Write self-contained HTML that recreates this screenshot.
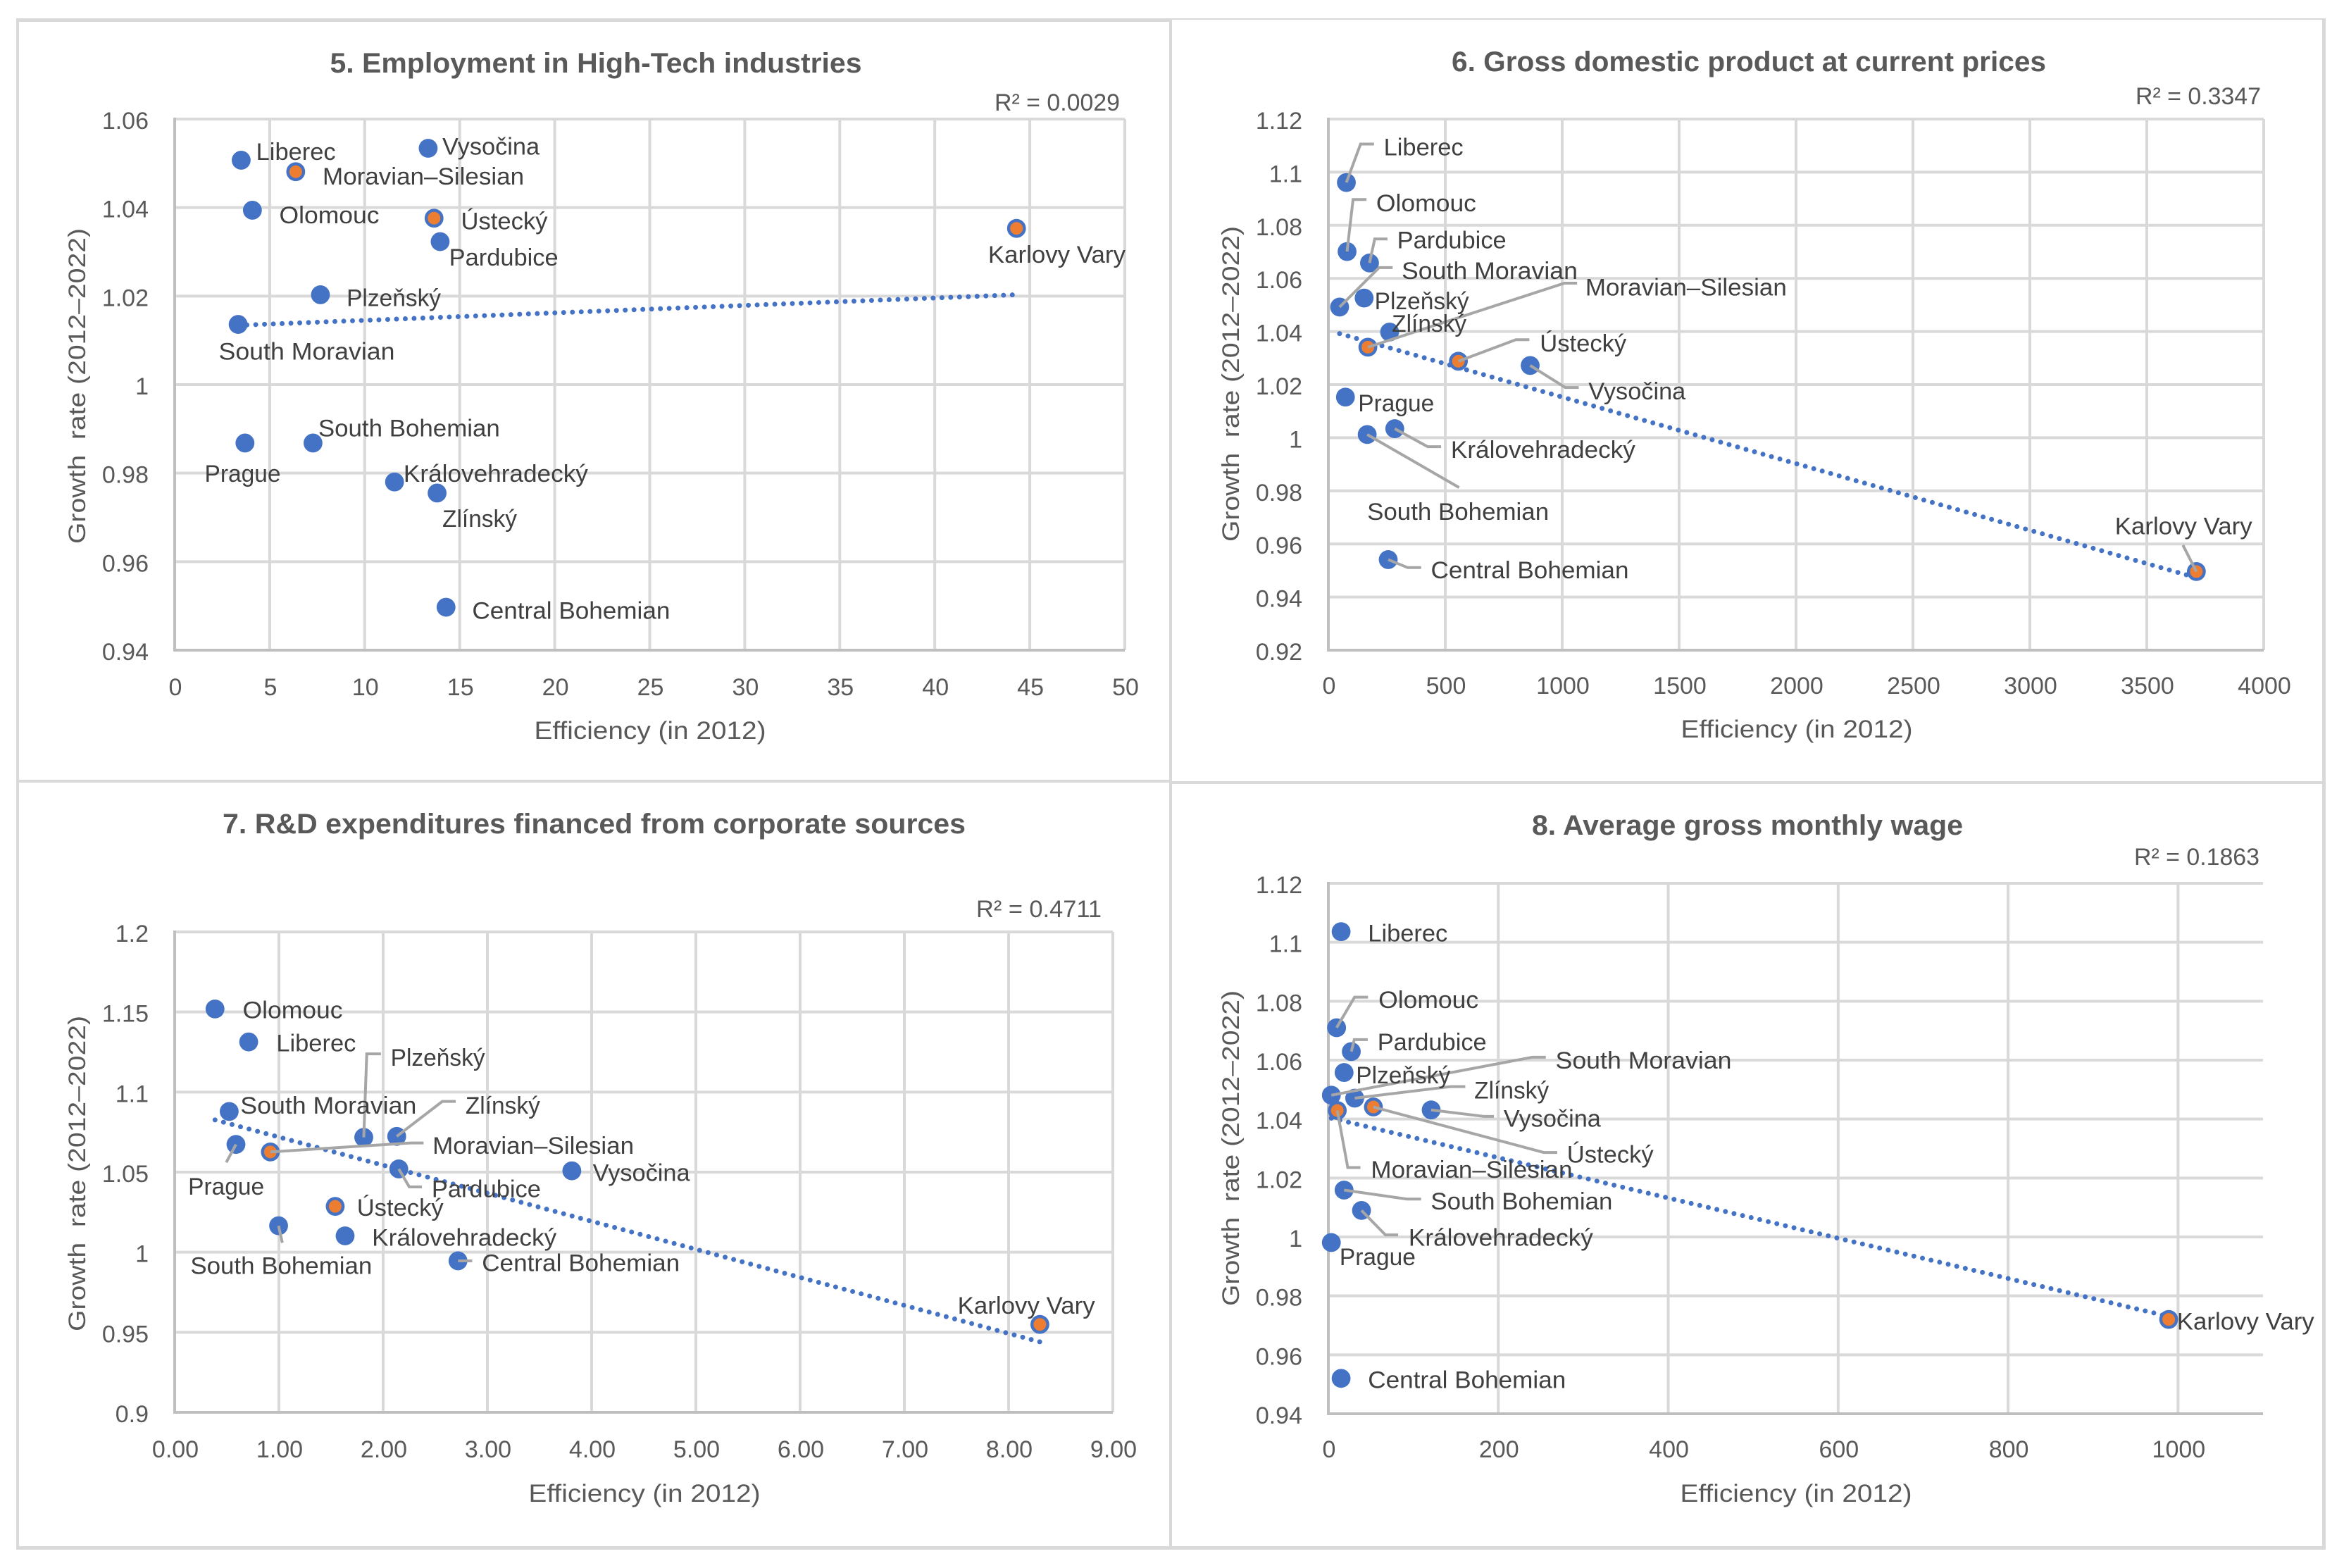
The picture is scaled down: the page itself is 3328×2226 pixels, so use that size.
<!DOCTYPE html>
<html lang="en">
<head>
<meta charset="utf-8">
<title>Efficiency and growth rate scatter charts</title>
<style>
html,body{margin:0;padding:0;background:#fff;}
body{width:3328px;height:2226px;overflow:hidden;}
svg{display:block;}
text{font-family:"Liberation Sans",sans-serif;}
</style>
</head>
<body>
<svg id="figure" xmlns="http://www.w3.org/2000/svg" width="3328" height="2226" viewBox="0 0 3328 2226"></svg>
<script>
const regions = ['Liberec','Moravian–Silesian','Vysočina','Olomouc','Ústecký','Pardubice','Karlovy Vary','Plzeňský','South Moravian','Prague','South Bohemian','Královehradecký','Zlínský','Central Bohemian'];
const highlightedRegions = ['Moravian–Silesian','Ústecký','Karlovy Vary'];

const chart5X = [3.5,6.37,13.34,4.09,13.65,13.97,44.3,7.67,3.34,3.7,7.28,11.57,13.81,14.28];
const chart5Y = [1.0507,1.0481,1.0534,1.0394,1.0376,1.0323,1.0353,1.0203,1.0136,0.9868,0.9868,0.978,0.9755,0.9497];
const chart5XTicks = ['0','5','10','15','20','25','30','35','40','45','50'];
const chart5YTicks = ['1.06','1.04','1.02','1','0.98','0.96','0.94'];
const chart5Trend = [1.0134,1.0203];

const chart6X = [77,169,863,80,556,176,3712,153,48,73,166,284,262,256];
const chart6Y = [1.0961,1.0341,1.0272,1.0701,1.0288,1.0658,0.9496,1.0526,1.0492,1.0153,1.0012,1.0034,1.0398,0.9541];
const chart6XTicks = ['0','500','1000','1500','2000','2500','3000','3500','4000'];
const chart6YTicks = ['1.12','1.1','1.08','1.06','1.04','1.02','1','0.98','0.96','0.94','0.92'];
const chart6Trend = [1.0392,0.9473];

const chart7X = [0.71,0.918,3.81,0.387,1.54,2.15,8.3,1.814,0.523,0.588,0.997,1.635,2.13,2.718];
const chart7Y = [1.1313,1.0626,1.0508,1.1519,1.0286,1.052,0.9549,1.0717,1.0879,1.0673,1.0165,1.0102,1.0723,0.9946];
const chart7XTicks = ['0.00','1.00','2.00','3.00','4.00','5.00','6.00','7.00','8.00','9.00'];
const chart7YTicks = ['1.2','1.15','1.1','1.05','1','0.95','0.9'];
const chart7Trend = [1.0826,0.944];

const chart8X = [15,10.5,121,9.7,53,27,989,18.5,3.5,3.5,18.5,39,31,15];
const chart8Y = [1.1036,1.0429,1.0431,1.071,1.0441,1.0629,0.972,1.0558,1.0481,0.9981,1.0159,1.009,1.0471,0.952];
const chart8XTicks = ['0','200','400','600','800','1000'];
const chart8YTicks = ['1.12','1.1','1.08','1.06','1.04','1.02','1','0.98','0.96','0.94'];
const chart8XMax = 1100;
const chart8Trend = [1.0403,0.973];

// Layout only: label and leader offsets from each point, in a 1.061 x 0.7098 px grid.
const GRID_X = 1.061;
const GRID_Y = 0.7098;
const labelWidths = {'Liberec':113,'Moravian–Silesian':286,'Vysočina':138,'Olomouc':142,'Ústecký':123,'Pardubice':155,'Karlovy Vary':195,'Plzeňský':134,'South Moravian':250,'Prague':108,'South Bohemian':258,'Královehradecký':262,'Zlínský':106,'Central Bohemian':281};

const chart5Labels = {'Liberec':{at:[20,-16]},'Moravian–Silesian':{at:[36,10]},'Vysočina':{at:[19,-3]},'Olomouc':{at:[36,11]},'Ústecký':{at:[36,7]},'Pardubice':{at:[12,32]},'Karlovy Vary':{at:[-38,53]},'Plzeňský':{at:[35,7]},'South Moravian':{at:[-26,55]},'Prague':{at:[-54,62]},'South Bohemian':{at:[7,-29]},'Královehradecký':{at:[12,-16]},'Zlínský':{at:[7,52]},'Central Bohemian':{at:[35,8]}};
const chart6Labels = {'Liberec':{at:[50,-70],leader:[[19,-77],[37,-77]]},'Olomouc':{at:[39,-96],leader:[[8,-104],[26,-104]]},'Pardubice':{at:[37,-45],leader:[[7,-48],[24,-48]]},'South Moravian':{at:[83,-72],leader:[[53,-79],[71,-79]]},'Plzeňský':{at:[14,7]},'Zlínský':{at:[3,-16]},'Moravian–Silesian':{at:[291,-119],leader:[[263,-128],[280,-128]]},'Ústecký':{at:[109,-35],leader:[[77,-43],[95,-43]]},'Vysočina':{at:[78,52],leader:[[47,44],[65,44]]},'Prague':{at:[17,13]},'Královehradecký':{at:[75,43],leader:[[44,36],[62,36]]},'South Bohemian':{at:[0,155],leader:[[123,106]]},'Central Bohemian':{at:[57,22],leader:[[26,16],[44,16]]},'Karlovy Vary':{at:[-109,-90],leader:[[-18,-53]]}};
const chart7Labels = {'Olomouc':{at:[37,3]},'Liberec':{at:[37,3]},'South Moravian':{at:[15,-11]},'Plzeňský':{at:[36,-159],leader:[[4,-167],[23,-167]]},'Zlínský':{at:[92,-61],leader:[[61,-70],[79,-70]]},'Prague':{at:[-64,85],leader:[[-13,36]]},'Moravian–Silesian':{at:[217,-12],leader:[[187,-18],[205,-18]]},'Pardubice':{at:[44,41],leader:[[14,36],[31,36]]},'Vysočina':{at:[28,5]},'Ústecký':{at:[29,3]},'South Bohemian':{at:[-118,81],leader:[[5,34]]},'Královehradecký':{at:[36,4]},'Central Bohemian':{at:[32,5],leader:[[19,0]]},'Karlovy Vary':{at:[-110,-37]}};
const chart8Labels = {'Liberec':{at:[36,4]},'Olomouc':{at:[56,-55],leader:[[24,-61],[42,-61]]},'Pardubice':{at:[35,-18],leader:[[4,-24],[22,-24]]},'Plzeňský':{at:[16,6]},'South Moravian':{at:[300,-69],leader:[[269,-76],[287,-76]]},'Zlínský':{at:[160,-15],leader:[[128,-23],[148,-23]]},'Moravian–Silesian':{at:[45,119],leader:[[14,114],[31,114]]},'Ústecký':{at:[259,96],leader:[[228,91],[246,91]]},'Vysočina':{at:[97,18],leader:[[71,13],[84,13]]},'South Bohemian':{at:[116,23],leader:[[84,18],[103,18]]},'Královehradecký':{at:[63,55],leader:[[32,49],[49,49]]},'Prague':{at:[11,30]},'Central Bohemian':{at:[36,4]},'Karlovy Vary':{at:[11,5]}};

const panels = [
 {n:5,title:'5. Employment in High-Tech industries',titleCx:846,titleY:89,titleW:755,left:248,right:1597,top:169,bottom:923,r2:'R² = 0.0029',r2Right:1590,r2Y:145,xTitleCx:923,xTitleY:1037,yTitleX:109,yTitleCy:548,xTickY:975,xs:chart5X,ys:chart5Y,xTicks:chart5XTicks,yTicks:chart5YTicks,trend:chart5Trend,labels:chart5Labels},
 {n:6,title:'6. Gross domestic product at current prices',titleCx:2483,titleY:87,titleW:844,left:1886,right:3214,top:169,bottom:923,r2:'R² = 0.3347',r2Right:3210,r2Y:136,xTitleCx:2551,xTitleY:1035,yTitleX:1747,yTitleCy:545,xTickY:973,xs:chart6X,ys:chart6Y,xTicks:chart6XTicks,yTicks:chart6YTicks,trend:chart6Trend,labels:chart6Labels},
 {n:7,title:'7. R&D expenditures financed from corporate sources',titleCx:843.5,titleY:1169,titleW:1055,left:248,right:1580,top:1323,bottom:2005,r2:'R² = 0.4711',r2Right:1564,r2Y:1290,xTitleCx:915,xTitleY:2120,yTitleX:109,yTitleCy:1666,xTickY:2057,xs:chart7X,ys:chart7Y,xTicks:chart7XTicks,yTicks:chart7YTicks,trend:chart7Trend,labels:chart7Labels},
 {n:8,title:'8. Average gross monthly wage',titleCx:2481,titleY:1171,titleW:612,left:1886,right:3213,top:1254,bottom:2007,r2:'R² = 0.1863',r2Right:3208,r2Y:1216,xTitleCx:2550,xTitleY:2120,yTitleX:1747,yTitleCy:1630,xTickY:2057,xs:chart8X,ys:chart8Y,xTicks:chart8XTicks,yTicks:chart8YTicks,xMax:chart8XMax,trend:chart8Trend,labels:chart8Labels}
];

const SVG_NS = 'http://www.w3.org/2000/svg';
const figure = document.getElementById('figure');

function make(parent, tag, attrs, content) {
  const node = document.createElementNS(SVG_NS, tag);
  for (const key in attrs) node.setAttribute(key, attrs[key]);
  if (content !== undefined) node.textContent = content;
  parent.appendChild(node);
  return node;
}
function slug(text) {
  return text.toLowerCase().normalize('NFD').replace(/[\u0300-\u036f]/g, '').replace(/[^a-z0-9]+/g, '-').replace(/^-|-$/g, '');
}

let el;
el = make(figure, 'rect', {x:0, y:0, width:3328, height:2226, fill:'#ffffff'});


// Panel frame rectangles: x, y, width, height.
const frameBars = [
  [23,26,1641,5],[1664,26,1638,2],[23,26,4,2174],[1660,26,4,2174],[3297,26,5,2174],
  [23,1107,1641,4],[1664,1109,1638,4],[23,2195,3279,5]
];
frameBars.forEach(function (b) {
  el = make(figure, 'rect', {x:b[0], y:b[1], width:b[2], height:b[3], fill:'#d9d9d9'});
  
  
});

panels.forEach(function (p) {
  const g = make(figure, 'g', {});
  
  

  const xTickValues = p.xTicks.map(Number);
  const yTickValues = p.yTicks.map(Number);
  const xMin = xTickValues[0];
  const xMax = p.xMax !== undefined ? p.xMax : xTickValues[xTickValues.length - 1];
  const yMax = yTickValues[0];
  const yMin = yTickValues[yTickValues.length - 1];
  const xScale = function (v) { return p.left + (v - xMin) / (xMax - xMin) * (p.right - p.left); };
  const yScale = function (v) { return p.bottom - (v - yMin) / (yMax - yMin) * (p.bottom - p.top); };

  el = make(g, 'text', {x:p.titleCx, y:p.titleY + 14, 'text-anchor':'middle', 'font-size':40, 'font-weight':'bold', fill:'#595959', textLength:p.titleW, lengthAdjust:'spacingAndGlyphs'}, p.title);
  
  

  el = make(g, 'text', {x:p.r2Right, y:p.r2Y + 12, 'text-anchor':'end', 'font-size':34, fill:'#595959', textLength:178, lengthAdjust:'spacingAndGlyphs'}, p.r2);
  
  

  xTickValues.forEach(function (v, i) {
    const x = xScale(v);
    if (i > 0) {
      el = make(g, 'line', {x1:x, x2:x, y1:p.top, y2:p.bottom, stroke:'#d9d9d9', 'stroke-width':4});
      
      
    }
    el = make(g, 'text', {x:x + 1, y:p.xTickY + 12, 'text-anchor':'middle', 'font-size':34, fill:'#595959'}, p.xTicks[i]);
    
    
  });
  yTickValues.forEach(function (v, i) {
    const y = yScale(v);
    if (i < yTickValues.length - 1) {
      el = make(g, 'line', {x1:p.left, x2:p.right, y1:y, y2:y, stroke:'#d9d9d9', 'stroke-width':4});
      
      
    }
    el = make(g, 'text', {x:p.left - 37, y:y + 14, 'text-anchor':'end', 'font-size':34, fill:'#595959'}, p.yTicks[i]);
    
    
  });

  el = make(g, 'line', {x1:p.left, x2:p.left, y1:p.top - 2, y2:p.bottom + 2, stroke:'#bfbfbf', 'stroke-width':4});
  
  
  el = make(g, 'line', {x1:p.left, x2:p.right, y1:p.bottom, y2:p.bottom, stroke:'#bfbfbf', 'stroke-width':4});
  
  

  el = make(g, 'text', {x:p.xTitleCx, y:p.xTitleY + 12, 'text-anchor':'middle', 'font-size':35, fill:'#595959', textLength:329, lengthAdjust:'spacingAndGlyphs'}, 'Efficiency (in 2012)');
  
  
  el = make(g, 'text', {x:0, y:0, transform:'translate(' + (p.yTitleX + 12) + ' ' + p.yTitleCy + ') rotate(-90)', 'text-anchor':'middle', 'font-size':34, fill:'#595959', textLength:448, lengthAdjust:'spacingAndGlyphs', style:'white-space:pre'}, 'Growth  rate (2012–2022)');
  
  

  const minX = Math.min.apply(null, p.xs);
  const maxX = Math.max.apply(null, p.xs);
  el = make(g, 'line', {x1:xScale(minX), y1:yScale(p.trend[0]), x2:xScale(maxX), y2:yScale(p.trend[1]), stroke:'#4472c4', 'stroke-width':7, 'stroke-linecap':'round', 'stroke-dasharray':'0 12.5'});
  
  

  regions.forEach(function (region, i) {
    const cx = xScale(p.xs[i]);
    const cy = yScale(p.ys[i]);
    el = make(g, 'circle', {cx:cx, cy:cy, r:13.4, fill:'#4472c4'});
    
    
    if (highlightedRegions.indexOf(region) !== -1) {
      el = make(g, 'circle', {cx:cx, cy:cy, r:9, fill:'#ed7d31'});
      
      
    }
  });

  regions.forEach(function (region, i) {
    const spec = p.labels[region];
    const cx = xScale(p.xs[i]);
    const cy = yScale(p.ys[i]);
    if (spec.leader) {
      const pts = [[cx, cy]].concat(spec.leader.map(function (o) { return [cx + o[0] * GRID_X, cy + o[1] * GRID_Y]; }));
      el = make(g, 'polyline', {points:pts.map(function (q) { return q.join(','); }).join(' '), fill:'none', stroke:'#a6a6a6', 'stroke-width':4});
      
      
    }
  });

  regions.forEach(function (region, i) {
    const spec = p.labels[region];
    const cx = xScale(p.xs[i]);
    const cy = yScale(p.ys[i]);
    el = make(g, 'text', {x:cx + spec.at[0] * GRID_X, y:cy + spec.at[1] * GRID_Y + 11, 'font-size':34, fill:'#404040', textLength:labelWidths[region], lengthAdjust:'spacingAndGlyphs'}, region);
    
    
  });
});
</script>
</body>
</html>
